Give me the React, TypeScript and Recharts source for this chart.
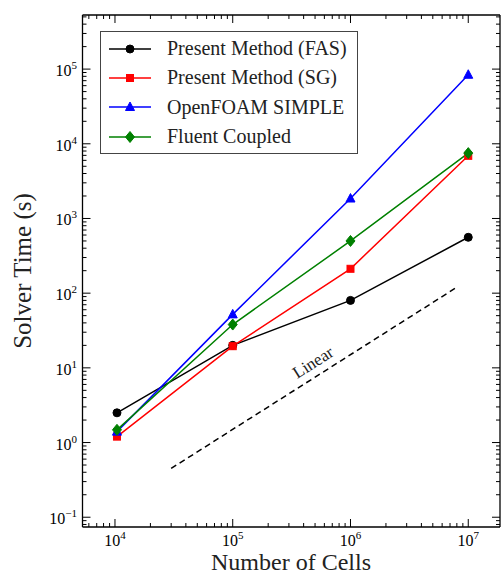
import { LineChart, Line, XAxis, YAxis, Legend, ReferenceDot } from 'recharts';

// mesh sizes and solver times (s)
const cells = [10400, 100000, 1000000, 10000000];
const fas = [2.5, 20, 80, 560];
const sg = [1.2, 19.5, 212, 6900];
const openfoam = [1.4, 52, 1850, 84000];
const fluent = [1.48, 38, 500, 7500];

// reference slope-1 guide
const linearCells = [30000, 8000000];
const linearTime = [0.45, 120];

const xMajor = [1e4, 1e5, 1e6, 1e7];
const xExp = ['4', '5', '6', '7'];
const yMajor = [1e-1, 1, 1e1, 1e2, 1e3, 1e4, 1e5];
const yExp = ['\u22121', '0', '1', '2', '3', '4', '5'];

const xDomain = [5300, 1.86e7];
const yDomain = [0.074, 5.3e5];

const rows = cells.map((c, i) => ({ cells: c, fas: fas[i], sg: sg[i], openfoam: openfoam[i], fluent: fluent[i] }));
const linearRows = linearCells.map((c, i) => ({ cells: c, linear: linearTime[i] }));

function withMinors(majors: number[], domain: number[]) {
    const out = [...majors];
    for (let e = -3; e <= 8; e++) {
        for (let k = 2; k <= 9; k++) {
            const v = k * Math.pow(10, e);
            if (v > domain[0] && v < domain[1]) out.push(v);
        }
    }
    return out.sort((a, b) => a - b);
}
const xTicks = withMinors(xMajor, xDomain);
const yTicks = withMinors(yMajor, yDomain);

const FONT = '"Liberation Serif", "Times New Roman", serif';

function tickDir(side: string, x: number, y: number, len: number) {
    if (side === 'bottom') return { x1: x, y1: y, x2: x, y2: y - len };
    if (side === 'top') return { x1: x, y1: y, x2: x, y2: y + len };
    if (side === 'left') return { x1: x, y1: y, x2: x + len, y2: y };
    return { x1: x, y1: y, x2: x - len, y2: y };
}

function makeTick(side: string, majors: number[], exps: string[], showLabel: boolean) {
    return (props: any) => {
        const { x, y, payload } = props;
        const i = majors.indexOf(payload.value);
        const major = i >= 0;
        const c = tickDir(side, x, y, major ? 8 : 4);
        let label = null;
        if (major && showLabel) {
            if (side === 'bottom') {
                label = (
                    <text x={x} y={y + 18.5} textAnchor="middle" fontFamily={FONT} fontSize={16} fill="#000">
                        <tspan>10</tspan><tspan dy={-7} fontSize={11}>{exps[i]}</tspan>
                    </text>
                );
            } else {
                label = (
                    <text x={x - 5.5} y={y + 7} textAnchor="end" fontFamily={FONT} fontSize={16} fill="#000">
                        <tspan>10</tspan><tspan dy={-7} fontSize={11}>{exps[i]}</tspan>
                    </text>
                );
            }
        }
        return (
            <g>
                <line {...c} stroke="#000" strokeWidth={1} />
                {label}
            </g>
        );
    };
}

function marker(kind: string, color: string) {
    return (props: any) => {
        const { cx, cy, index } = props;
        const key = `${kind}-${index}`;
        if (kind === 'circle') return <circle key={key} cx={cx} cy={cy} r={4} fill={color} stroke={color} />;
        if (kind === 'square') return <rect key={key} x={cx - 3.5} y={cy - 3.5} width={7} height={7} fill={color} stroke={color} />;
        if (kind === 'triangle')
            return <polygon key={key} points={`${cx},${cy - 5} ${cx - 4.5},${cy + 3.5} ${cx + 4.5},${cy + 3.5}`} fill={color} stroke={color} />;
        return <polygon key={key} points={`${cx},${cy - 5.5} ${cx + 4.5},${cy} ${cx},${cy + 5.5} ${cx - 4.5},${cy}`} fill={color} stroke={color} />;
    };
}

const series = [
    { key: 'fas', name: 'Present Method (FAS)', color: '#000000', shape: 'circle' },
    { key: 'sg', name: 'Present Method (SG)', color: '#ff0000', shape: 'square' },
    { key: 'openfoam', name: 'OpenFOAM SIMPLE', color: '#0000ff', shape: 'triangle' },
    { key: 'fluent', name: 'Fluent Coupled', color: '#008000', shape: 'diamond' },
];

function LegendBox() {
    return (
        <div style={{ border: '1px solid #444', background: '#fff', width: 256, padding: '2px 0', boxSizing: 'content-box' }}>
            {series.map((s) => (
                <div key={s.key} style={{ height: 29.3, display: 'flex', alignItems: 'center' }}>
                    <svg width={66} height={20} style={{ flex: 'none' }}>
                        <line x1={8} x2={50} y1={10} y2={10} stroke={s.color} strokeWidth={1.5} />
                        {marker(s.shape, s.color)({ cx: 29, cy: 10, index: 0 })}
                    </svg>
                    <span style={{ fontFamily: FONT, fontSize: 20, color: '#222', whiteSpace: 'nowrap' }}>{s.name}</span>
                </div>
            ))}
        </div>
    );
}

const axisLine = { stroke: '#000', strokeWidth: 1.3 };

export default function App() {
    return (
        <div style={{ position: 'absolute', left: 0, top: 0 }}>
            <LineChart width={502} height={576} data={rows} margin={{ top: 14, right: 1, bottom: 48, left: 81.5 }}>
                <XAxis dataKey="cells" type="number" scale="log" domain={xDomain} allowDataOverflow ticks={xTicks} interval={0}
                    height={1} tickSize={0} tickMargin={0} tickLine={false} axisLine={axisLine}
                    tick={makeTick('bottom', xMajor, xExp, true)} />
                <XAxis xAxisId="top" orientation="top" dataKey="cells" type="number" scale="log" domain={xDomain} allowDataOverflow ticks={xTicks} interval={0}
                    height={1} tickSize={0} tickMargin={0} tickLine={false} axisLine={axisLine}
                    tick={makeTick('top', xMajor, xExp, false)} />
                <YAxis type="number" scale="log" domain={yDomain} allowDataOverflow ticks={yTicks} interval={0}
                    width={1} tickSize={0} tickMargin={0} tickLine={false} axisLine={axisLine}
                    tick={makeTick('left', yMajor, yExp, true)} />
                <YAxis yAxisId="right" orientation="right" type="number" scale="log" domain={yDomain} allowDataOverflow ticks={yTicks} interval={0}
                    width={1} tickSize={0} tickMargin={0} tickLine={false} axisLine={axisLine}
                    tick={makeTick('right', yMajor, yExp, false)} />
                <Line data={linearRows} dataKey="linear" stroke="#000" strokeWidth={1.5} strokeDasharray="6 4" dot={false}
                    legendType="none" isAnimationActive={false} />
                {series.map((s) => (
                    <Line key={s.key} dataKey={s.key} name={s.name} stroke={s.color} strokeWidth={1.5}
                        dot={marker(s.shape, s.color)} activeDot={false} isAnimationActive={false} />
                ))}
                <ReferenceDot x={490000} y={11.3} r={0}
                    shape={(p: any) => (
                        <text x={p.cx} y={p.cy} textAnchor="middle" dominantBaseline="middle" fontFamily={FONT} fontSize={17} fill="#222"
                            transform={`rotate(-32.4, ${p.cx}, ${p.cy})`}>Linear</text>
                    )} />
                <Legend layout="vertical" align="center" verticalAlign="middle" content={() => <LegendBox />}
                    wrapperStyle={{ left: 100, top: 31, width: 'auto' }} />
                <text x={291} y={570} textAnchor="middle" fontFamily={FONT} fontSize={24} fill="#222">Number of Cells</text>
                <text x={31} y={271} textAnchor="middle" fontFamily={FONT} fontSize={25} fill="#222"
                    transform="rotate(-90, 31, 271)">Solver Time (s)</text>
            </LineChart>
        </div>
    );
}
